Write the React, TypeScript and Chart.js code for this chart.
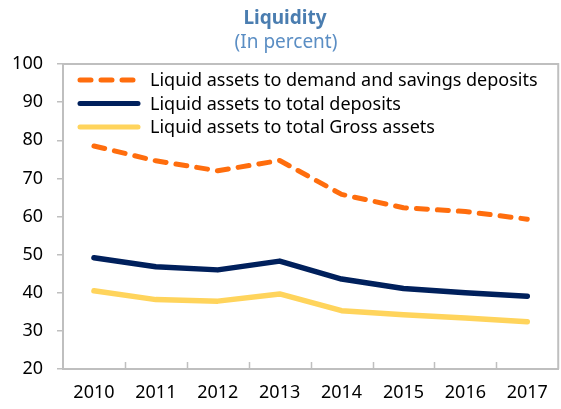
import React, { useEffect, useRef } from "react";
import { Chart, registerables } from "chart.js";

Chart.register(...registerables);

const years = ["2010", "2011", "2012", "2013", "2014", "2015", "2016", "2017"];
const demandSavings = [78.5, 74.6, 72.0, 74.7, 65.8, 62.3, 61.3, 59.3];
const totalDeposits = [49.2, 46.8, 46.0, 48.3, 43.6, 41.1, 40.0, 39.1];
const grossAssets = [40.5, 38.2, 37.8, 39.7, 35.3, 34.2, 33.4, 32.4];
const seriesLabels = [
  "Liquid assets to demand and savings deposits",
  "Liquid assets to total deposits",
  "Liquid assets to total Gross assets",
];
const titleText = "Liquidity";
const subtitleText = "(In percent)";

const FONT = "'Noto Sans', 'Open Sans', sans-serif";
const ORANGE = "#ff6d0d";
const NAVY = "#00205c";
const YELLOW = "#ffd45c";
const FRAME = "#bfbfbf";

const decorPlugin = {
  id: "decor",
  afterDraw(chart: any) {
    const ctx = chart.ctx;
    const area = chart.chartArea;
    ctx.save();
    // frame top and right
    ctx.strokeStyle = FRAME;
    ctx.lineWidth = 2;
    ctx.beginPath();
    ctx.moveTo(area.left, area.top);
    ctx.lineTo(area.right, area.top);
    ctx.lineTo(area.right, area.bottom);
    ctx.stroke();
    // inward x ticks at category boundaries
    const n = chart.data.labels.length;
    const step = (area.right - area.left) / n;
    ctx.lineWidth = 1.5;
    for (let i = 1; i < n; i++) {
      const x = Math.round(area.left + step * i) + 0.5;
      ctx.beginPath();
      ctx.moveTo(x, area.bottom);
      ctx.lineTo(x, area.bottom - 7);
      ctx.stroke();
    }
    // titles
    ctx.textAlign = "center";
    ctx.textBaseline = "middle";
    ctx.fillStyle = "#4a7db0";
    ctx.font = `bold 19px ${FONT}`;
    ctx.fillText(titleText, 285, 19);
    ctx.fillStyle = "#5b8ec4";
    ctx.font = `19px ${FONT}`;
    ctx.fillText(subtitleText, 286, 43);
    // legend
    const ds = chart.data.datasets;
    ctx.textAlign = "left";
    ctx.font = `18px ${FONT}`;
    for (let i = 0; i < ds.length; i++) {
      const y = 80 + i * 23.5;
      ctx.strokeStyle = ds[i].borderColor;
      ctx.lineWidth = 5;
      ctx.lineCap = "round";
      ctx.setLineDash(ds[i].borderDash || []);
      ctx.beginPath();
      ctx.moveTo(area.left + 17, y);
      ctx.lineTo(area.left + 75, y);
      ctx.stroke();
      ctx.setLineDash([]);
      ctx.fillStyle = "#000";
      ctx.fillText(ds[i].label, area.left + 87, y + 1);
    }
    ctx.restore();
  },
};

export default function App() {
  const ref = useRef<HTMLCanvasElement>(null);
  useEffect(() => {
    if (!ref.current) return;
    const chart = new Chart(ref.current, {
      type: "line",
      data: {
        labels: years,
        datasets: [
          {
            label: seriesLabels[0],
            data: demandSavings,
            borderColor: ORANGE,
            borderWidth: 5,
            borderDash: [11, 10],
            borderCapStyle: "round",
            borderJoinStyle: "round",
            pointRadius: 0,
            tension: 0,
          },
          {
            label: seriesLabels[1],
            data: totalDeposits,
            borderColor: NAVY,
            borderWidth: 5.5,
            borderCapStyle: "round",
            borderJoinStyle: "round",
            pointRadius: 0,
            tension: 0,
          },
          {
            label: seriesLabels[2],
            data: grossAssets,
            borderColor: YELLOW,
            borderWidth: 5.5,
            borderCapStyle: "round",
            borderJoinStyle: "round",
            pointRadius: 0,
            tension: 0,
          },
        ],
      },
      options: {
        responsive: false,
        animation: false,
        layout: { padding: { left: 0, top: 64, right: 2, bottom: 0 } },
        plugins: { legend: { display: false }, title: { display: false }, tooltip: { enabled: false } },
        scales: {
          x: {
            offset: true,
            grid: { drawOnChartArea: false, drawTicks: false, offset: true },
            border: { display: true, color: FRAME, width: 2 },
            ticks: { color: "#000", font: { family: FONT, size: 18 }, padding: 13, maxRotation: 0 },
            afterFit: (s: any) => { s.height = 40; },
          },
          y: {
            min: 20,
            max: 100,
            grid: { drawOnChartArea: false, drawTicks: true, tickLength: 6, color: FRAME, lineWidth: 1.5 },
            border: { display: true, color: FRAME, width: 2 },
            ticks: { stepSize: 10, color: "#000", font: { family: FONT, size: 18 }, padding: 14 },
            afterFit: (s: any) => { s.width = 63; },
          },
        },
      },
      plugins: [decorPlugin],
    } as any);
    return () => chart.destroy();
  }, []);
  return (
    <div style={{ position: "absolute", left: 0, top: 0, width: 561, height: 409, background: "#fff" }}>
      <canvas ref={ref} width={561} height={409} />
    </div>
  );
}
